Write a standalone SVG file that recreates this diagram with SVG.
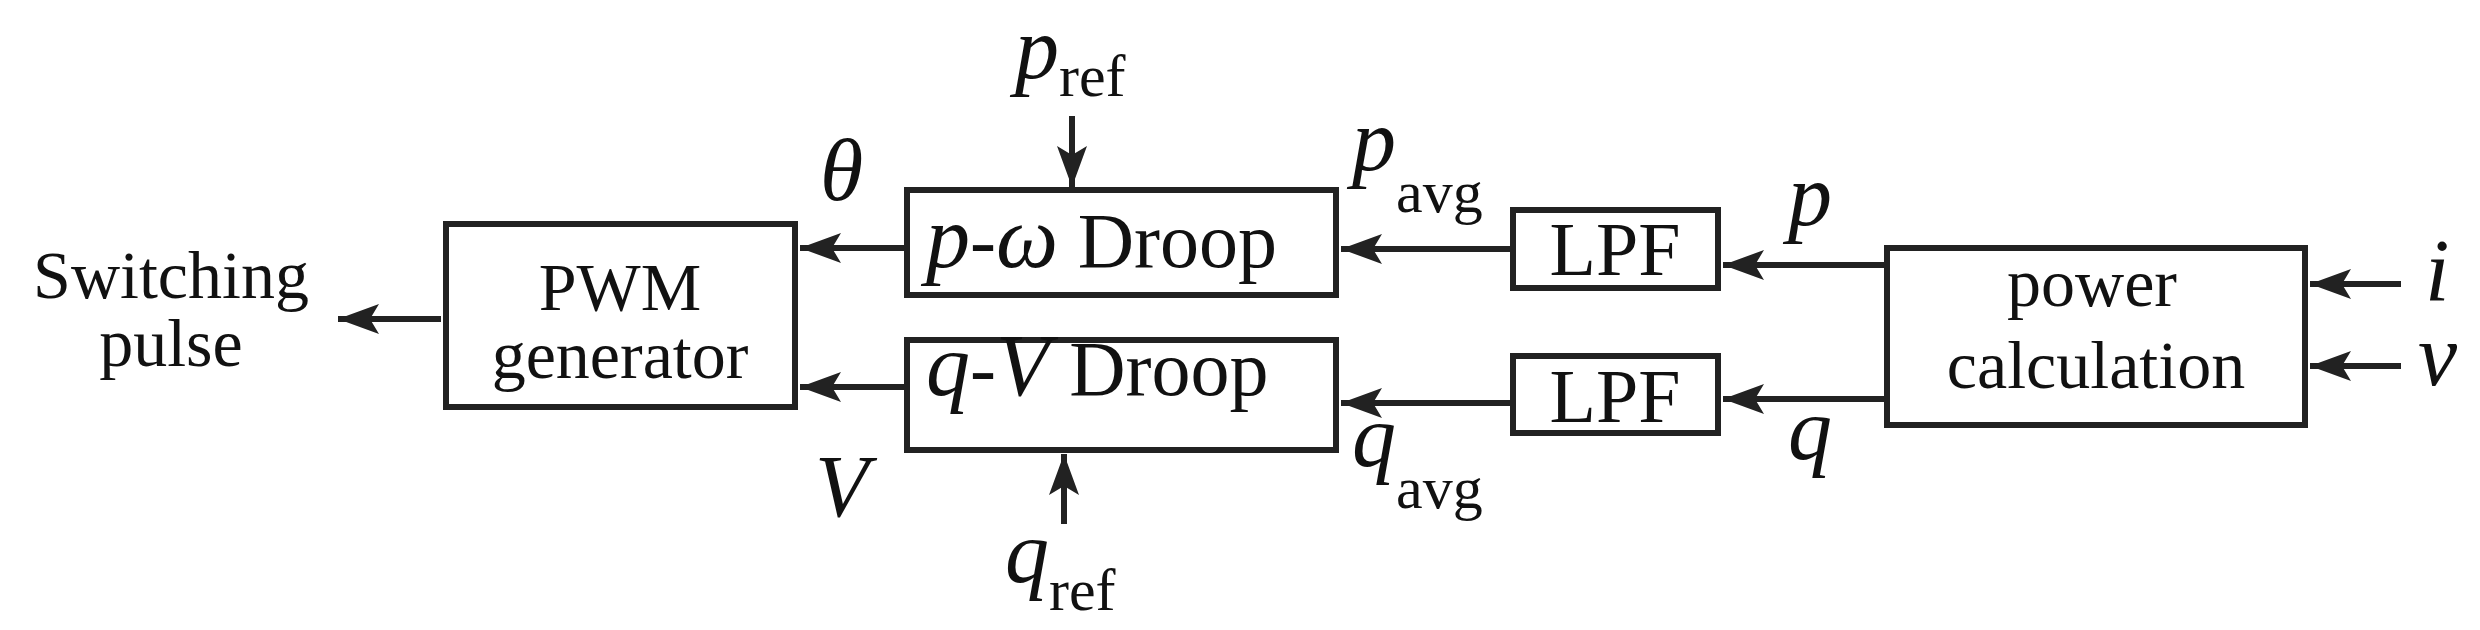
<svg xmlns="http://www.w3.org/2000/svg" width="2480" height="630" viewBox="0 0 2480 630" font-family="Liberation Serif, Times New Roman, serif">
<style>
.box{fill:#fff;stroke:#222;stroke-width:6}
.ln{stroke:#222;stroke-width:6;fill:none;marker-end:url(#ah)}
text{font-family:"Liberation Serif","Times New Roman",Tinos,serif;fill:#111}
.t{font-size:76px;text-anchor:middle}
.t2{font-size:68px;text-anchor:middle}
.m{font-size:88px;font-style:italic}
.s{font-size:60px;font-style:normal}
</style>
<defs>
<marker id="ah" markerUnits="userSpaceOnUse" markerWidth="50" markerHeight="40" viewBox="-44 -20 50 40" refX="0" refY="0" orient="auto">
<path d="M0,0 L-41,-15 L-32,0 L-41,15 Z" fill="#222"/>
</marker>
</defs>
<rect width="2480" height="630" fill="#fff"/>
<g id="connectors">
<line class="ln" x1="441" y1="319" x2="338" y2="319"/>
<line class="ln" x1="904" y1="248" x2="800" y2="248"/>
<line class="ln" x1="904" y1="387" x2="800" y2="387"/>
<line class="ln" x1="1510" y1="249" x2="1341" y2="249"/>
<line class="ln" x1="1510" y1="403" x2="1341" y2="403"/>
<line class="ln" x1="1884" y1="265" x2="1723" y2="265"/>
<line class="ln" x1="1884" y1="399" x2="1723" y2="399"/>
<line class="ln" x1="2401" y1="284" x2="2310" y2="284"/>
<line class="ln" x1="2401" y1="366" x2="2310" y2="366"/>
<line class="ln" x1="1072" y1="116" x2="1072" y2="187"/>
<line class="ln" x1="1064" y1="524" x2="1064" y2="454"/>
</g>
<g id="switching"><text class="t2" x="171" y="298">Switching</text><text class="t2" x="171" y="366">pulse</text></g>
<g id="pwm"><rect class="box" x="446" y="224" width="349" height="183"/><text class="t2" x="620" y="310">PWM</text><text class="t2" x="620" y="378">generator</text></g>
<g id="pdroop"><rect class="box" x="907" y="190" width="429" height="105"/><text x="926" y="267" style="font-size:78px"><tspan class="m">p</tspan>-<tspan class="m">ω</tspan> Droop</text></g>
<g id="qdroop"><rect class="box" x="907" y="340" width="429" height="110"/><text x="926" y="395" style="font-size:78px"><tspan class="m">q</tspan>-<tspan class="m">V</tspan> Droop</text></g>
<g id="lpf1"><rect class="box" x="1513" y="210" width="205" height="78"/><text class="t" x="1615" y="275">LPF</text></g>
<g id="lpf2"><rect class="box" x="1513" y="356" width="205" height="77"/><text class="t" x="1615" y="422">LPF</text></g>
<g id="power"><rect class="box" x="1887" y="248" width="418" height="177"/><text class="t2" x="2092" y="306">power</text><text class="t2" x="2096" y="388">calculation</text></g>
<g id="labels">
<text class="m" x="1015" y="78">p<tspan class="s" dy="18">ref</tspan></text>
<text class="m" x="1005" y="582">q<tspan class="s" dy="28">ref</tspan></text>
<text class="m" x="820" y="200">θ</text>
<text class="m" x="815" y="516">V</text>
<text class="m" x="1352" y="170">p<tspan class="s" dy="42">avg</tspan></text>
<text class="m" x="1352" y="466">q<tspan class="s" dy="42">avg</tspan></text>
<text class="m" x="1788" y="225">p</text>
<text class="m" x="1788" y="459">q</text>
<text class="m" x="2425" y="300">i</text>
<text class="m" x="2418" y="385">v</text>
</g>
</svg>
